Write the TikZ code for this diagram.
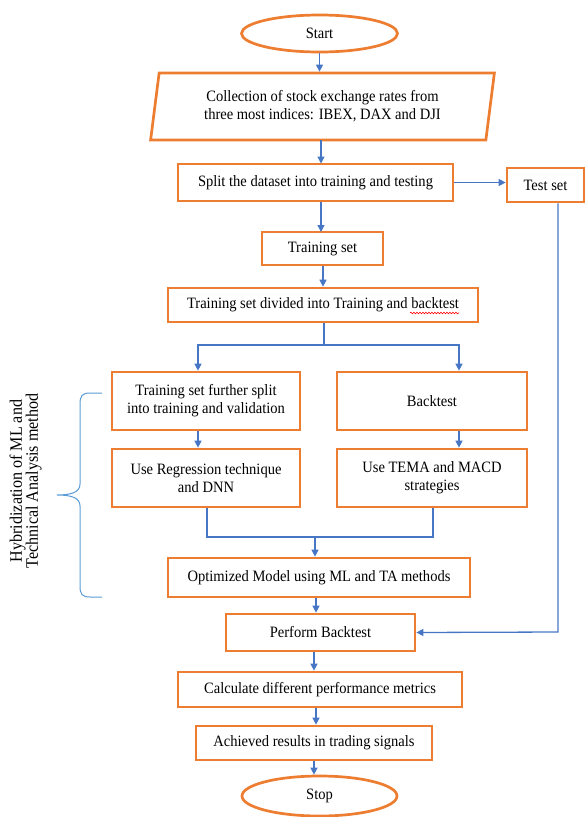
\documentclass[tikz,border=0pt]{standalone}
\usepackage{fontspec}
\setmainfont[FakeStretch = 0.92]{Liberation Serif}
\usetikzlibrary{shapes.geometric, arrows.meta, decorations.pathmorphing}

\definecolor{boxorange}{RGB}{237,125,49}
\definecolor{arrowblue}{RGB}{70,118,196}
\definecolor{braceblue}{RGB}{91,155,213}

\tikzstyle{box} = [draw = boxorange, line width = 2.7pt, fill = white, align = center,
                   inner sep = 2pt, font = \fontsize{15.8}{18}\selectfont]
\tikzstyle{terminal} = [box, ellipse]
\tikzstyle{io} = [box, trapezium, trapezium left angle = 80, trapezium right angle = 100,
                  trapezium stretches = true]
\tikzstyle{arrow} = [draw = arrowblue, line width = 1.3pt, -{Triangle[length = 7pt, width = 7pt]}]
\tikzstyle{line} = [draw = arrowblue, line width = 1.3pt]

\begin{document}
\begin{tikzpicture}[x = 1pt, y = -1pt]
      \useasboundingbox (0, 0) rectangle (586, 817);

      % Boxes, top to bottom
      \node[terminal, minimum width = 156pt, minimum height = 37pt] (start) at (319.5, 33.5) {Start};
      \node[io, minimum width = 345pt, minimum height = 67pt] (collect) at (322.5, 106.5)
        {Collection of stock exchange rates from\\three most indices: IBEX, DAX and DJI};
      \node[box, minimum width = 275pt, minimum height = 37pt] (split) at (315.5, 182.5)
        {Split the dataset into training and testing};
      \node[box, minimum width = 77pt, minimum height = 34pt] (testset) at (545.5, 185) {Test set};
      \node[box, minimum width = 121pt, minimum height = 33pt] (trainset) at (322.5, 248.5) {Training set};
      \node[box, minimum width = 310pt, minimum height = 34pt] (divide) at (323, 305)
        {Training set divided into Training and backtest};
      \node[box, minimum width = 188pt, minimum height = 58pt] (further) at (206, 401)
        {Training set further split\\into training and validation};
      \node[box, minimum width = 190pt, minimum height = 58pt] (backtest) at (432, 401) {Backtest};
      \node[box, minimum width = 188pt, minimum height = 58pt] (regress) at (206, 478)
        {Use Regression technique\\and DNN};
      \node[box, minimum width = 190pt, minimum height = 58pt] (tema) at (432, 478)
        {Use TEMA and MACD\\strategies};
      \node[box, minimum width = 302pt, minimum height = 39pt] (optim) at (319, 577.5)
        {Optimized Model using ML and TA methods};
      \node[box, minimum width = 189pt, minimum height = 37pt] (perform) at (320.5, 632.5) {Perform Backtest};
      \node[box, minimum width = 284pt, minimum height = 35pt] (calc) at (320, 689.5)
        {Calculate different performance metrics};
      \node[box, minimum width = 236pt, minimum height = 34pt] (achieve) at (314, 743)
        {Achieved results in trading signals};
      \node[terminal, minimum width = 155pt, minimum height = 40pt] (stop) at (319.5, 796) {Stop};

      % spell-check underline under "backtest"
      \draw[red, line width = 0.6pt, decorate,
            decoration = {snake, amplitude = 0.8pt, segment length = 3pt}] (410, 313) -- (459, 313);

      % Helper points for the forks
      \coordinate (bl) at (198, 345);
      \coordinate (br) at (459, 345);
      \coordinate (jl) at (207, 537);
      \coordinate (jr) at (433, 537);
      \coordinate (jm) at (315, 537);
      \coordinate (tc) at (558, 632);

      % Main flow
      \draw[arrow] (start.south) -- (start.south |- collect.north);
      \draw[arrow] (321, 140) -- (321, 163.5);
      \draw[arrow] (split.south -| 321, 0) -- (321, 232);
      \draw[arrow] (split.east) -- (testset.west |- split.east);
      \draw[arrow] (trainset.south -| 323, 0) -- (divide.north -| 323, 0);
      \draw[line] (divide.south -| 324, 0) -- (324, 345);
      \draw[arrow] (324, 345) -- (bl) -- (bl |- further.north);
      \draw[arrow] (324, 345) -- (br) -- (br |- backtest.north);
      \draw[arrow] (further.south -| bl) -- (regress.north -| bl);
      \draw[arrow] (backtest.south -| br) -- (tema.north -| br);
      \draw[line] (regress.south -| jl) -- (jl) -- (jr) -- (tema.south -| jr);
      \draw[arrow] (jm) -- (optim.north -| jm);
      \draw[arrow] (optim.south -| 316, 0) -- (perform.north -| 316, 0);
      \draw[arrow] (perform.south -| 314, 0) -- (calc.north -| 314, 0);
      \draw[arrow] (calc.south -| 316, 0) -- (achieve.north -| 316, 0);
      \draw[arrow] (achieve.south -| 314, 0) -- (stop.north -| 314, 0);
      % Test set path
      \draw[arrow] (testset.south -| tc) -- (tc) -- (perform.east);

      % Brace and side label
      \draw[draw = braceblue, line width = 1pt]
        (102, 393) -- (90, 393) .. controls (82, 393) and (80, 396) .. (80, 404)
        -- (80, 484) .. controls (80, 492) and (72, 495) .. (57, 495)
        .. controls (72, 495) and (80, 498) .. (80, 506)
        -- (80, 586) .. controls (80, 594) and (82, 597) .. (90, 597) -- (102, 597);
      \node[rotate = 90, align = center, font = \fontsize{17.5}{16}\selectfont] (hybrid) at (25.5, 481)
        {Hybridization of ML and\\Technical Analysis method};
    \end{tikzpicture}
\end{document}
